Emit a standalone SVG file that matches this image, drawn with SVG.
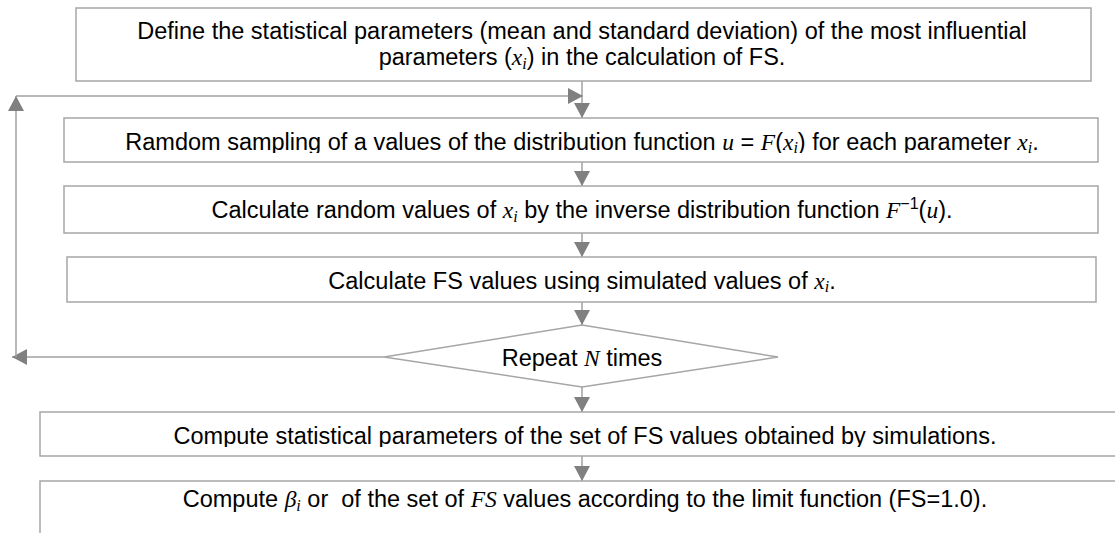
<svg xmlns="http://www.w3.org/2000/svg" width="1115" height="533" viewBox="0 0 1115 533">
<style>
.box{fill:#fff;stroke:#a6a6a6;stroke-width:1.5}
.con{fill:none;stroke:#a0a0a0;stroke-width:1.5}
.t{font-family:"Liberation Sans",Arial,sans-serif;font-size:23.5px;fill:#000;text-anchor:middle}
.m{font-family:"Liberation Serif","Times New Roman",serif;font-style:italic}
.s{font-size:16px}
</style>
<defs>
<marker id="arr" viewBox="0 0 15 16" refX="15" refY="8" markerWidth="15" markerHeight="16" orient="auto" markerUnits="userSpaceOnUse">
<path d="M0,0 L15,8 L0,16 z" fill="#808080"/>
</marker>
<clipPath id="cl2"><rect x="0" y="118" width="1115" height="35"/></clipPath>
<clipPath id="cl4"><rect x="0" y="257" width="1115" height="35"/></clipPath>
<clipPath id="cl5"><rect x="0" y="412" width="1115" height="35"/></clipPath>
</defs>
<rect width="1115" height="533" fill="#fff"/>
<g id="connectors">
<line class="con" x1="582" y1="81" x2="582" y2="118" marker-end="url(#arr)"/>
<line class="con" x1="582" y1="162" x2="582" y2="186" marker-end="url(#arr)"/>
<line class="con" x1="582" y1="233" x2="582" y2="257" marker-end="url(#arr)"/>
<line class="con" x1="582" y1="302" x2="582" y2="325" marker-end="url(#arr)"/>
<line class="con" x1="582" y1="387" x2="582" y2="412" marker-end="url(#arr)"/>
<line class="con" x1="582" y1="456" x2="582" y2="481" marker-end="url(#arr)"/>
<line class="con" x1="384" y1="357" x2="12" y2="357" marker-end="url(#arr)"/>
<line class="con" x1="16" y1="357" x2="16" y2="96" marker-end="url(#arr)"/>
<line class="con" x1="16" y1="96" x2="583" y2="96" marker-end="url(#arr)"/>
</g>
<g id="n1">
<rect class="box" x="76" y="8" width="1015" height="73"/>
<text class="t" x="582" y="39">Define the statistical parameters (mean and standard deviation) of the most influential</text>
<text class="t" x="582" y="65">parameters (<tspan class="m">x</tspan><tspan class="m s" dy="4">i</tspan><tspan dy="-4">) in the calculation of FS.</tspan></text>
</g>
<g id="n2">
<rect class="box" x="64" y="118" width="1034" height="44"/>
<text class="t" x="582" y="150" clip-path="url(#cl2)">Ramdom sampling of a values of the distribution function <tspan class="m">u</tspan> = <tspan class="m">F</tspan>(<tspan class="m">x</tspan><tspan class="m s" dy="3">i</tspan><tspan dy="-3">) for each parameter </tspan><tspan class="m">x</tspan><tspan class="m s" dy="3">i</tspan><tspan dy="-3">.</tspan></text>
</g>
<g id="n3">
<rect class="box" x="64" y="186" width="1034" height="47"/>
<text class="t" x="582" y="218">Calculate random values of <tspan class="m">x</tspan><tspan class="m s" dy="4">i</tspan><tspan dy="-4"> by the inverse distribution function </tspan><tspan class="m">F</tspan><tspan class="s" dy="-9">−1</tspan><tspan dy="9">(</tspan><tspan class="m">u</tspan>).</text>
</g>
<g id="n4">
<rect class="box" x="67" y="257" width="1029" height="45"/>
<text class="t" x="582" y="289" clip-path="url(#cl4)">Calculate FS values using simulated values of <tspan class="m">x</tspan><tspan class="m s" dy="3">i</tspan><tspan dy="-3">.</tspan></text>
</g>
<g id="n5">
<polygon class="box" points="582,325 778,357 582,387 384,357"/>
<text class="t" x="582" y="366">Repeat <tspan class="m">N</tspan> times</text>
</g>
<g id="n6">
<rect class="box" x="40" y="412" width="1090" height="44"/>
<text class="t" x="585" y="444" clip-path="url(#cl5)">Compute statistical parameters of the set of FS values obtained by simulations.</text>
</g>
<g id="n7">
<rect class="box" x="40" y="481" width="1090" height="70"/>
<text class="t" x="585" y="507">Compute <tspan class="m">β</tspan><tspan class="m s" dy="4">i</tspan><tspan dy="-4"> or &#160;of the set of </tspan><tspan class="m">FS</tspan> values according to the limit function (FS=1.0).</text>
</g>
</svg>
